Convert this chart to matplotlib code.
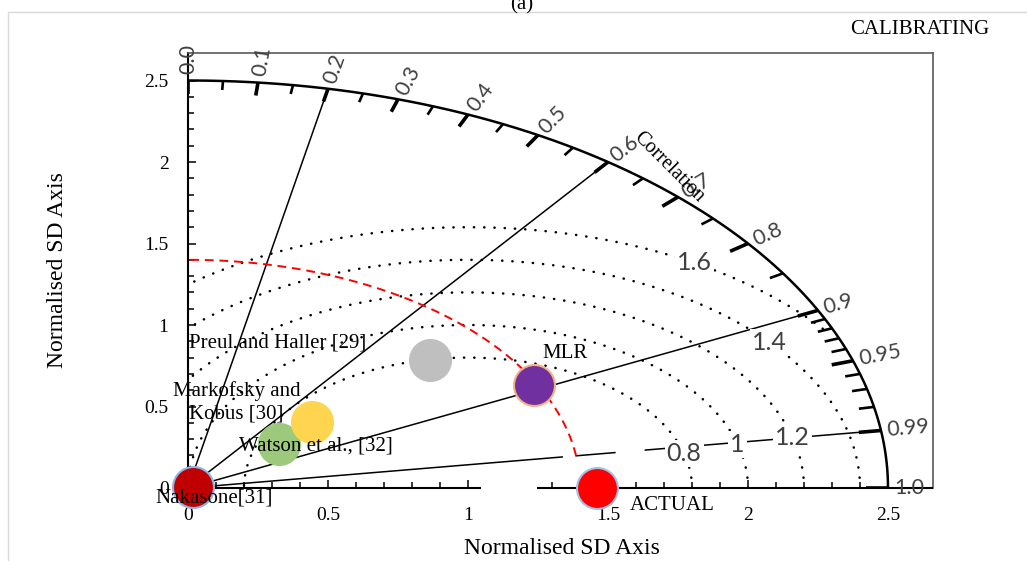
import numpy as np
import matplotlib
matplotlib.use("Agg")
import matplotlib.pyplot as plt
from matplotlib.patches import Rectangle
from matplotlib.ticker import FixedLocator

plt.rcParams['font.family'] = ['Liberation Serif', 'DejaVu Serif']

# normalised standard deviation and correlation of each model
models = ["Nakasone[31]", "Watson et al., [32]", "Markofsky and\nKobus [30]",
          "Preul and Haller [29]", "MLR", "ACTUAL"]
norm_sd = [0.02, 0.42, 0.60, 1.17, 1.39, 1.46]
correlation = [0.90, 0.77, 0.74, 0.74, 0.89, 1.00]
fill_colors = ["#C00000", "#9CC97C", "#FFD550", "#BFBFBF", "#7030A0", "#FF0000"]
edge_colors = ["#8DB4E2", "#9CC97C", "#FFD550", "#BFBFBF", "#F4B183", "#9DC3E6"]
# where each name sits relative to its marker (pixels)
label_offsets = [(21, -11), (37, -2), (-76, 20), (-153, 17), (31, 31), (75, -18)]

# correlation scale on the outer arc
corr_major = [0.0, 0.1, 0.2, 0.3, 0.4, 0.5, 0.6, 0.7, 0.8, 0.9, 0.95, 0.99, 1.0]
corr_minor = [0.05, 0.15, 0.25, 0.35, 0.45, 0.55, 0.65, 0.75, 0.85,
              0.91, 0.92, 0.93, 0.94, 0.96, 0.97, 0.98]
corr_lines = [0.2, 0.6, 0.9, 0.99]

# centred RMS difference contours around the reference
rms_levels = [0.8, 1.0, 1.2, 1.4, 1.6]
rms_label_angle = [15.2, 15.6, 14.9, 39.7, 59.7]
ref_sd = 1.0
sd_arc = 1.4
sd_max = 2.5

W, H = 1027, 561
fig = plt.figure(figsize=(W / 100, H / 100), dpi=100)
ax = fig.add_axes([188 / W, 73 / H, 745 / W, 435 / H])
ax.set_xlim(0, 745 / 280)
ax.set_ylim(0, 435 / 163)

# pixel size of one data unit along x and y
p0 = ax.transData.transform((0, 0))
sx = ax.transData.transform((1, 0))[0] - p0[0]
sy = ax.transData.transform((0, 1))[1] - p0[1]


def polar(r, c):
    th = np.arccos(np.clip(c, -1, 1))
    return r * np.cos(th), r * np.sin(th)


def screen_angle(c):
    th = np.arccos(c)
    return np.degrees(np.arctan2(sy * np.sin(th), sx * np.cos(th)))


# outer arc
th = np.linspace(0, np.pi / 2, 300)
ax.plot(sd_max * np.cos(th), sd_max * np.sin(th), color='black', lw=1.8, zorder=3)

# radial correlation lines, the 0.99 one is broken in two places
gaps = {0.99: [(1.35, 1.40), (1.54, 1.65)]}
for c in corr_lines:
    stops = [0.0]
    for a, b in gaps.get(c, []):
        stops += [a, b]
    stops.append(sd_max)
    for a, b in zip(stops[::2], stops[1::2]):
        xa, ya = polar(a, c)
        xb, yb = polar(b, c)
        ax.plot([xa, xb], [ya, yb], color='black', lw=1.1, zorder=2)

# correlation ticks and labels
for c in corr_major:
    x0, y0 = polar(sd_max - 0.08, c)
    x1, y1 = polar(sd_max, c)
    ax.plot([x0, x1], [y0, y1], color='black', lw=2.6, solid_capstyle='butt', zorder=3)
    ang = screen_angle(c)
    txt = f"{c:.1f}" if round(c * 10, 6) == int(round(c * 10)) else f"{c:.2f}"
    off = 4.5
    ax.annotate(txt, xy=(x1, y1),
                xytext=(off * np.cos(np.radians(ang)), off * np.sin(np.radians(ang))),
                textcoords='offset points', rotation=ang, rotation_mode='anchor',
                ha='left', va='center', fontsize=15.5, color='#404040',
                family=['Lato', 'DejaVu Sans'], annotation_clip=False, zorder=6)
for c in corr_minor:
    x0, y0 = polar(sd_max - 0.055, c)
    x1, y1 = polar(sd_max, c)
    ax.plot([x0, x1], [y0, y1], color='black', lw=1.9, solid_capstyle='butt', zorder=3)

ax.text(1.718, 1.969, "Correlation", rotation=-45, ha='center', va='center',
        fontsize=14.5, zorder=6)

# dotted RMS circles, kept inside the quarter circle
phi = np.linspace(0, np.pi, 800)
for r, la in zip(rms_levels, rms_label_angle):
    cx = ref_sd + r * np.cos(phi)
    cy = r * np.sin(phi)
    keep = (cx >= 0) & (cx ** 2 + cy ** 2 <= (sd_max - 0.03) ** 2)
    ax.plot(cx[keep], cy[keep], color='black', lw=1.8, linestyle=(0, (0.1, 4.0)),
            dash_capstyle='round', zorder=1.5)
    lx = ref_sd + r * np.cos(np.radians(la))
    ly = r * np.sin(np.radians(la))
    ax.text(lx, ly, f"{r:g}", ha='center', va='center', fontsize=18,
            color='#404040', family=['Lato', 'DejaVu Sans'], zorder=4,
            bbox=dict(boxstyle='square,pad=0.08', fc='white', ec='none'))

# dashed red arc of constant standard deviation
th = np.linspace(np.arccos(0.99), np.pi / 2, 200)
ax.plot(sd_arc * np.cos(th), sd_arc * np.sin(th), color='red', lw=1.4,
        linestyle=(0, (4.5, 3)), zorder=2)

# x axis line with its gap
ax.plot([0, 1.045], [0, 0], color='black', lw=1.5, solid_capstyle='butt',
        clip_on=False, zorder=3)
ax.plot([1.245, 745 / 280], [0, 0], color='black', lw=1.5, solid_capstyle='butt',
        clip_on=False, zorder=3)

# model markers and their names
for name, s, c, fc, ec, (dx, dy) in zip(models, norm_sd, correlation,
                                         fill_colors, edge_colors, label_offsets):
    x, y = polar(s, c)
    ax.plot([x], [y], 'o', ms=29.5, mfc=fc, mec=ec, mew=1.5, clip_on=False, zorder=5)
    ax.annotate(name, xy=(x, y), xytext=(dx * 0.72, dy * 0.72), textcoords='offset points',
                ha='center', va='center', multialignment='center', fontsize=15,
                annotation_clip=False, zorder=7)

# frame and axes
for side in ['top', 'right']:
    ax.spines[side].set_color('#595959')
    ax.spines[side].set_linewidth(1.2)
ax.spines['bottom'].set_visible(False)
ax.spines['left'].set_color('black')
ax.spines['left'].set_linewidth(1.5)

xt = [0, 0.5, 1, 1.5, 2, 2.5]
ax.xaxis.set_major_locator(FixedLocator(xt))
ax.xaxis.set_minor_locator(FixedLocator([v / 10 for v in range(26) if not 10 < v < 13]))
ax.set_xticklabels(["0", "0.5", "1", "1.5", "2", "2.5"])
ax.yaxis.set_major_locator(FixedLocator(xt))
ax.yaxis.set_minor_locator(FixedLocator([v / 10 for v in range(26)]))
ax.set_yticklabels(["0", "0.5", "1", "1.5", "2", "2.5"])
ax.tick_params(which='both', direction='in', width=1.1, color='black',
               labelsize=14, pad=14)
ax.tick_params(which='major', length=6)
ax.tick_params(which='minor', length=4)

fig.text(562 / W, 1 - 548 / H, "Normalised SD Axis", ha='center', va='center', fontsize=17)
fig.text(58 / W, 1 - 270 / H, "Normalised SD Axis", ha='center', va='center',
         rotation=90, fontsize=17)
fig.text(920 / W, 1 - 30 / H, "CALIBRATING", ha='center', va='center', fontsize=15)
fig.text(522 / W, 1 - 9 / H, "(a)", ha='center', va='baseline', fontsize=15)

fig.add_artist(Rectangle((8 / W, -0.05), 1.0, 1 - 12 / H + 0.05, transform=fig.transFigure,
                         fill=False, ec='#D9D9D9', lw=1.0))

fig.savefig("out.png", dpi=100)
